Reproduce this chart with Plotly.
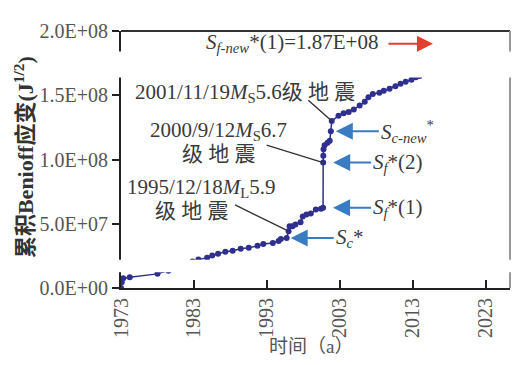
import plotly.graph_objects as go

# ---------------- data (cumulative Benioff strain, units of 1e7) ----------------
years = [1973.0, 1973.1, 1973.3, 1974.2, 1978.0, 1979.5, 1980.8, 1982.0,
         1982.8, 1983.6, 1984.8, 1985.5, 1986.3, 1987.3, 1988.3, 1989.4,
         1990.5, 1991.7, 1992.5, 1993.8, 1994.6, 1994.9, 1995.7, 1995.96,
         1996.1, 1996.5, 1996.9, 1997.6, 1997.9, 1998.4, 1999.0, 1999.7,
         2000.4, 2000.69, 2000.70, 2000.72, 2000.75, 2000.9, 2001.3, 2001.6,
         2001.75, 2001.88, 2002.8, 2003.5, 2004.2, 2004.9, 2005.7, 2006.4,
         2006.9, 2007.5, 2008.4, 2009.0, 2009.8, 2010.6, 2011.3, 2012.0,
         2012.8, 2013.4, 2013.9]
strain_1e7 = [0.0, 0.45, 0.76, 0.84, 1.10, 1.35, 1.60, 1.90,
              2.06, 2.21, 2.36, 2.52, 2.67, 2.82, 2.90, 3.05,
              3.13, 3.28, 3.43, 3.51, 3.66, 3.81, 3.89, 4.42,
              4.80, 4.80, 4.95, 5.11, 5.56, 5.72, 5.79, 6.10,
              6.17, 6.25, 9.76, 10.3, 10.8, 11.1, 11.3, 11.45,
              12.2, 13.0, 13.4, 13.6, 13.7, 13.9, 14.2, 14.5,
              14.85, 15.1, 15.2, 15.35, 15.5, 15.7, 15.9, 16.05,
              16.2, 16.4, 16.5]
strain = [v * 1e7 for v in strain_1e7]

y_tickvals = [0, 5e7, 1e8, 1.5e8, 2e8]
y_ticktext = ["0.0E+00", "5.0E+07", "1.0E+08", "1.5E+08", "2.0E+08"]
x_tickvals = [1973, 1983, 1993, 2003, 2013, 2023]
x_ticktext = ["1973", "1983", "1993", "2003", "2013", "2023"]

# characteristic points (indices into the series) with their blue-arrow labels
arrow_idx = [22, 33, 34, 40]
arrow_labels = ["<i>S</i><sub><i>c</i></sub>*",
                "<i>S</i><sub><i>f</i></sub>*(1)",
                "<i>S</i><sub><i>f</i></sub>*(2)",
                "<i>S</i><sub><i>c-new</i></sub><sup>*</sup>"]

# earthquakes (indices) and their labels
quake_idx = [23, 34, 41]
quake_line1 = ["1995/12/18<i>M</i><sub>L</sub>5.9",
               "2000/9/12<i>M</i><sub>S</sub>6.7",
               "2001/11/19<i>M</i><sub>S</sub>5.6级 地 震"]
quake_line2 = ["级 地 震", "级 地 震", ""]

prediction_text = "<i>S</i><sub><i>f-new</i></sub>*(1)=1.87E+08"

# ---------------- figure ----------------
FONT = "'Liberation Serif', 'Times New Roman', 'Noto Sans CJK SC', serif"
NAVY = "#2e2f8f"
BLUE = "#3a7cc2"
TXT = "#3a3a3a"

BODY = 8                      # default page margin around the plot div
PAGE_W, PAGE_H = 526, 365
W, H = PAGE_W - BODY, PAGE_H - BODY
PL, PT = 121, 25              # plot-area left/top in page pixels
PW, PH = 389, 263             # plot-area size
L, T = PL - BODY, PT - BODY
R, B = W - L - PW, H - T - PH


def px(xp):                   # page pixel x -> paper
    return (xp - PL) / PW


def py(yp):                   # page pixel y -> paper
    return (PT + PH - yp) / PH


fig = go.Figure()
fig.add_trace(go.Scatter(
    x=years, y=strain, mode="lines+markers",
    line=dict(color=NAVY, width=1.5),
    marker=dict(color=NAVY, size=6),
    showlegend=False, hoverinfo="skip"))

ann = []
# blue arrows with labels
arrow_ax = [47, 48, 48, 48]
arrow_standoff = [4, 10, 10, 5]
for i, lab, a, so in zip(arrow_idx, arrow_labels, arrow_ax, arrow_standoff):
    ann.append(dict(x=years[i], y=strain[i], xref="x", yref="y",
                    ax=a, ay=0,
                    text=lab, xanchor="left", showarrow=True,
                    arrowhead=2, arrowsize=1.7, arrowwidth=2,
                    arrowcolor=BLUE, standoff=so,
                    font=dict(family=FONT, size=21, color=TXT)))

# black leader lines from labels to earthquake points
leader_offsets = [(-55, -27), (-58, -18), (-25, -22)]
for i, off in zip(quake_idx, leader_offsets):
    ann.append(dict(x=years[i], y=strain[i], xref="x", yref="y",
                    ax=off[0], ay=off[1], text="", showarrow=True,
                    arrowhead=0, arrowwidth=1.4, arrowcolor="#333333"))

# earthquake text labels
line1_pos = [(125, 186), (148, 127), (133, 88)]
line2_pos = [(153, 209), (180, 151), None]
for t1, t2, p1, p2 in zip(quake_line1, quake_line2, line1_pos, line2_pos):
    ann.append(dict(x=px(p1[0]), y=py(p1[1]), xref="paper", yref="paper",
                    text=t1, showarrow=False, xanchor="left", yanchor="middle",
                    font=dict(family=FONT, size=21, color=TXT)))
    if p2 is not None:
        ann.append(dict(x=px(p2[0]), y=py(p2[1]), xref="paper", yref="paper",
                        text=t2, showarrow=False, xanchor="left", yanchor="middle",
                        font=dict(family=FONT, size=21, color=TXT)))

# prediction text + red arrow
ann.append(dict(x=px(204), y=py(37), xref="paper", yref="paper",
                text=prediction_text, showarrow=False, xanchor="left",
                yanchor="middle", font=dict(family=FONT, size=21, color=TXT)))
ann.append(dict(x=px(433), y=py(38), xref="paper", yref="paper",
                ax=-46, ay=0, text="", showarrow=True, arrowhead=2,
                arrowsize=1.6, arrowwidth=2, arrowcolor="#e0402f"))

# axis titles
ann.append(dict(x=px(24), y=py(154), xref="paper", yref="paper",
                xanchor="center", yanchor="middle",
                text="<b>累积Benioff应变(J<sup>1/2</sup>)</b>", textangle=-90,
                showarrow=False, font=dict(family=FONT, size=22, color="#333333")))
ann.append(dict(x=px(311), y=py(348), xref="paper", yref="paper",
                xanchor="center", yanchor="middle",
                text="时间（a）", showarrow=False,
                font=dict(family=FONT, size=19, color="#555555")))

shapes = [
    # top frame line and right frame line
    dict(type="line", xref="paper", yref="paper", x0=0, x1=1, y0=1, y1=1,
         line=dict(color="#333333", width=2)),
    dict(type="line", xref="paper", yref="paper", x0=1, x1=1, y0=0, y1=1,
         line=dict(color="#999999", width=2)),
    # white scan bands of the original figure
    dict(type="rect", xref="paper", yref="paper", layer="above",
         x0=px(0), x1=px(530), y0=py(72.5), y1=py(46),
         fillcolor="white", line=dict(width=0)),
    dict(type="rect", xref="paper", yref="paper", layer="above",
         x0=px(0), x1=px(530), y0=py(272), y1=py(259),
         fillcolor="white", line=dict(width=0)),
]

fig.update_layout(
    width=W, height=H,
    margin=dict(l=L, r=R, t=T, b=B, pad=0),
    paper_bgcolor="white", plot_bgcolor="white",
    font=dict(family=FONT, size=20, color="#555555"),
    annotations=ann, shapes=shapes,
    xaxis=dict(range=[1973, 2026.3], tickvals=x_tickvals, ticktext=x_ticktext,
               tickangle=-90, ticks="inside", ticklen=8, tickwidth=2,
               tickcolor="#222222", showline=True, linecolor="#222222",
               linewidth=2, showgrid=False, zeroline=False,
               tickfont=dict(family=FONT, size=20, color="#555555")),
    yaxis=dict(range=[0, 2e8], tickvals=y_tickvals, ticktext=y_ticktext,
               ticks="outside", ticklen=7, tickwidth=2, tickcolor="#222222",
               showline=True, linecolor="#222222", linewidth=2,
               showgrid=False, zeroline=False,
               tickfont=dict(family=FONT, size=20, color="#555555")),
)

fig.write_html("out.html")
